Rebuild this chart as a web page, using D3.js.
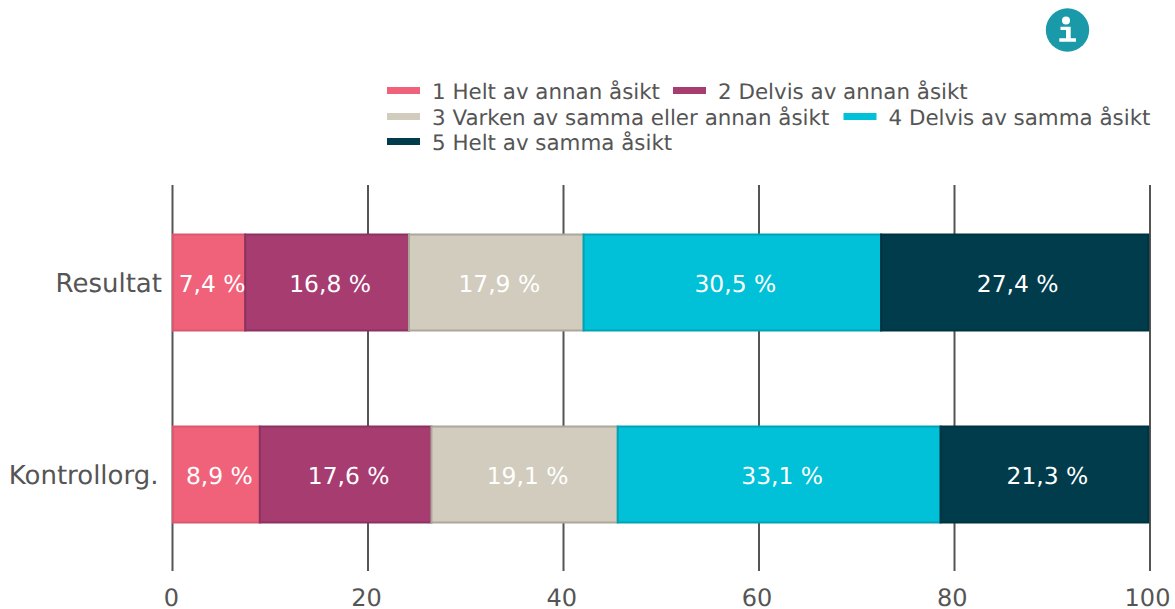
<!DOCTYPE html>
<html>
<head>
<meta charset="utf-8">
<script src="https://cdn.jsdelivr.net/npm/d3@7"></script>
<style>
  html, body { margin: 0; padding: 0; background: #fff; }
  svg { display: block; font-family: "DejaVu Sans", sans-serif; text-rendering: geometricPrecision; }
</style>
</head>
<body>
<div id="chart"></div>
<script>
// Values
const groups = ["Resultat", "Kontrollorg."];
const answers = [
  "1 Helt av annan åsikt",
  "2 Delvis av annan åsikt",
  "3 Varken av samma eller annan åsikt",
  "4 Delvis av samma åsikt",
  "5 Helt av samma åsikt"
];
const resultat = [7.4, 16.8, 17.9, 30.5, 27.4];
const kontroll = [8.9, 17.6, 19.1, 33.1, 21.3];
const xTicks = [0, 20, 40, 60, 80, 100];
const colors = ["#f0627a", "#a63c70", "#d1ccbd", "#00c1d8", "#003c4c"];
const borders = ["#d9586e", "#8a3260", "#aca899", "#00a3b6", "#00323f"];

// Legend rows, wrapped like the original
const legendItems = [
  { i: 0, x: 387, y: 91 },
  { i: 1, x: 673, y: 91 },
  { i: 2, x: 387, y: 117 },
  { i: 3, x: 843.5, y: 117 },
  { i: 4, x: 387, y: 142 }
];

const width = 1175;
const height = 609;
const textColor = "#555555";

const svg = d3.select("#chart")
  .append("svg")
  .attr("width", width)
  .attr("height", height);

// the original has bars, grid lines and tick labels a little out of step
const x = d3.scaleLinear().domain([0, 100]).range([173, 1148.3]);
const xGrid = d3.scaleLinear().domain([0, 100]).range([172.5, 1150]);
const xLabel = d3.scaleLinear().domain([0, 100]).range([171.3, 1147.5]);
const y = d3.scaleBand().domain(groups).range([186.5, 570.5]).paddingInner(0.5).paddingOuter(0.25);

// Grid lines
svg.append("g")
  .selectAll("line")
  .data(xTicks)
  .enter()
  .append("line")
  .attr("x1", d => xGrid(d))
  .attr("x2", d => xGrid(d))
  .attr("y1", 185)
  .attr("y2", 571)
  .attr("stroke", "#555555")
  .attr("stroke-width", 2);

// x tick labels
svg.append("g")
  .selectAll("text")
  .data(xTicks)
  .enter()
  .append("text")
  .attr("x", d => xLabel(d))
  .attr("y", 606)
  .attr("text-anchor", "middle")
  .attr("font-size", "24px")
  .attr("fill", textColor)
  .text(d => d);

// Stacked bars
const rows = [resultat, kontroll];
rows.forEach((values, r) => {
  let sum = 0;
  const segments = values.map((v, i) => {
    const seg = { v, i, start: sum };
    sum += v;
    return seg;
  });
  const row = svg.append("g");

  row.selectAll("rect")
    .data(segments)
    .enter()
    .append("rect")
    .attr("x", d => x(d.start))
    .attr("y", y(groups[r]))
    .attr("width", d => x(d.start + d.v) - x(d.start))
    .attr("height", y.bandwidth())
    .attr("fill", d => colors[d.i])
    .attr("stroke", d => borders[d.i])
    .attr("stroke-width", 2);

  row.selectAll("text")
    .data(segments)
    .enter()
    .append("text")
    .attr("x", d => x(d.start + d.v / 2) + 3)
    .attr("y", y(groups[r]) + y.bandwidth() / 2 + 9.5)
    .attr("text-anchor", "middle")
    .attr("font-size", "23.4px")
    .attr("fill", "#ffffff")
    .text(d => d.v.toFixed(1).replace(".", ",") + " %");

  // Category label
  svg.append("text")
    .attr("x", r === 0 ? 162 : 158.5)
    .attr("y", y(groups[r]) + y.bandwidth() / 2 + 9)
    .attr("text-anchor", "end")
    .attr("font-size", "26px")
    .attr("fill", textColor)
    .text(groups[r]);
});

// Legend
const legend = svg.append("g")
  .selectAll("g")
  .data(legendItems)
  .enter()
  .append("g")
  .attr("transform", d => `translate(${d.x},${d.y})`);

legend.append("rect")
  .attr("x", 0)
  .attr("y", -4)
  .attr("width", 33)
  .attr("height", 7)
  .attr("fill", d => colors[d.i]);

legend.append("text")
  .attr("x", 45)
  .attr("y", 8)
  .attr("font-size", "21.4px")
  .attr("fill", textColor)
  .text(d => answers[d.i]);

// Info icon
const info = svg.append("g").attr("transform", "translate(1067.5,30)");
info.append("circle").attr("r", 21.7).attr("fill", "#1a9aa8");
info.append("circle").attr("cx", -1.5).attr("cy", -9.5).attr("r", 4).attr("fill", "#fff");
info.append("path")
  .attr("d", "M-7,-3.3H3.2V8.3H8.5V11.7H-8.2V8.3H-1.5V-0.1H-7Z")
  .attr("fill", "#fff");
</script>
</body>
</html>
